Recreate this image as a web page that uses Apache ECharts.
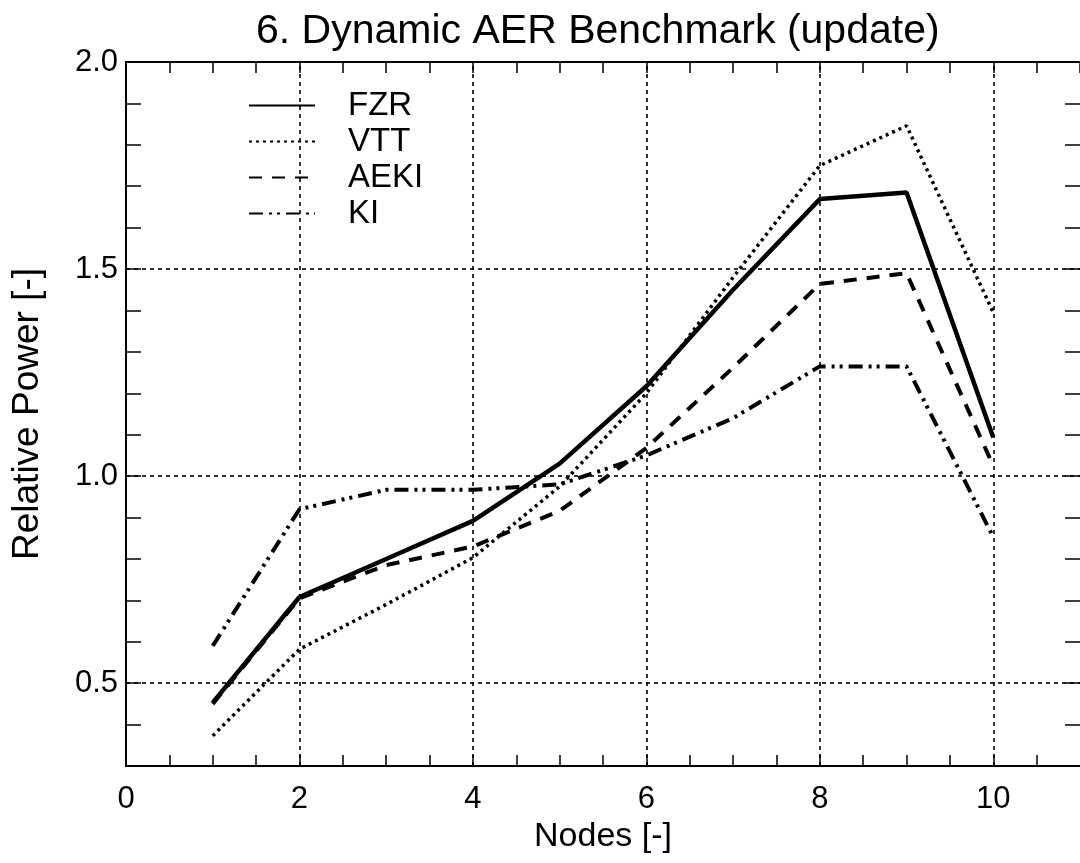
<!DOCTYPE html>
<html>
<head>
<meta charset="utf-8">
<script src="https://cdn.jsdelivr.net/npm/echarts@6/dist/echarts.min.js"></script>
<style>
html,body{margin:0;padding:0;background:#fff;}
#chart{width:1080px;height:863px;}
</style>
</head>
<body>
<div id="chart"></div>
<script>
var nodes = [1, 2, 3, 4, 5, 6, 7, 8, 9, 10];
var fzr  = [0.453, 0.708, 0.800, 0.892, 1.030, 1.217, 1.450, 1.669, 1.685, 1.093];
var vtt  = [0.373, 0.582, 0.690, 0.803, 0.975, 1.200, 1.480, 1.750, 1.846, 1.395];
var aeki = [0.450, 0.705, 0.785, 0.830, 0.916, 1.068, 1.262, 1.464, 1.490, 1.025];
var ki   = [0.590, 0.920, 0.967, 0.967, 0.980, 1.050, 1.140, 1.265, 1.265, 0.853];
var seriesNames = ['FZR', 'VTT', 'AEKI', 'KI'];
var xGridLines = [2, 4, 6, 8, 10];
var yGridLines = [0.5, 1.0, 1.5];
var xLabelValues = [0, 2, 4, 6, 8, 10];
var yLabelValues = [0.5, 1.0, 1.5, 2.0];

var FONT = "'Liberation Sans', Arial, Helvetica, sans-serif";

function pairs(vals) { return nodes.map(function (n, i) { return [n, vals[i]]; }); }
function isIn(list, v) { return list.some(function (t) { return Math.abs(t - v) < 1e-6; }); }

var gridLine = { type: [4, 4], width: 1.6, color: '#000' };
var markData = xGridLines.map(function (v) { return { xAxis: v }; })
  .concat(yGridLines.map(function (v) { return { yAxis: v }; }));

var axisCommon = {
  type: 'value',
  axisLine: { show: true, onZero: false, lineStyle: { color: '#000', width: 2 } },
  splitLine: { show: false },
  axisTick: { show: true, inside: true, lineStyle: { color: '#000', width: 1.5 } }
};

function xAx(pos, showLabel) {
  return Object.assign({}, axisCommon, {
    position: pos, min: 0, max: 11, interval: 0.5,
    axisTick: { show: true, inside: true, length: 11, lineStyle: { color: '#000', width: 1.5 } },
    axisLabel: {
      show: showLabel, color: '#000', fontSize: 31, fontFamily: FONT, margin: 18,
      showMaxLabel: false,
      formatter: function (v) { return isIn(xLabelValues, v) ? String(Math.round(v)) : ''; }
    }
  });
}
function yAx(pos, showLabel) {
  return Object.assign({}, axisCommon, {
    position: pos, min: 0.3, max: 2.0, interval: 0.1,
    axisTick: { show: true, inside: true, length: 15, lineStyle: { color: '#000', width: 1.5 } },
    axisLabel: {
      show: showLabel, color: '#000', fontSize: 31, fontFamily: FONT, margin: 8,
      formatter: function (v) { return isIn(yLabelValues, v) ? v.toFixed(1) : ''; }
    }
  });
}

var xa0 = xAx('bottom', true);
xa0.name = 'Nodes [-]';
xa0.nameLocation = 'middle';
xa0.nameGap = 50;
xa0.nameTextStyle = { color: '#000', fontSize: 34, fontFamily: FONT };
var xa1 = xAx('top', false);
var ya0 = yAx('left', true);
ya0.name = 'Relative Power [-]';
ya0.nameLocation = 'middle';
ya0.nameGap = 80;
ya0.nameTextStyle = { color: '#000', fontSize: 37, fontFamily: FONT };
var ya1 = yAx('right', false);
ya1.axisLine = { show: false, onZero: false };

var dashes = {
  FZR: 'solid',
  VTT: [3, 4],
  AEKI: [13, 10],
  KI: [14, 6, 3, 5, 3, 6]
};
var widths = { FZR: 4.5, VTT: 3.5, AEKI: 4, KI: 4 };
var dataMap = { FZR: fzr, VTT: vtt, AEKI: aeki, KI: ki };

var series = seriesNames.map(function (name, i) {
  var s = {
    name: name,
    type: 'line',
    xAxisIndex: 0,
    yAxisIndex: 0,
    data: pairs(dataMap[name]),
    symbol: 'none',
    showSymbol: false,
    animation: false,
    color: '#000',
    itemStyle: { color: '#000' },
    lineStyle: { color: '#000', width: widths[name], type: dashes[name], cap: 'butt' },
    z: 3
  };
  if (i === 0) {
    s.markLine = {
      silent: true, symbol: ['none', 'none'], animation: false,
      label: { show: false }, lineStyle: gridLine,
      emphasis: { disabled: true },
      data: markData, z: 1
    };
  }
  return s;
});

var chart = echarts.init(document.getElementById('chart'), null, { renderer: 'canvas' });
chart.setOption({
  backgroundColor: '#fff',
  animation: false,
  title: {
    text: '6. Dynamic AER Benchmark (update)',
    left: 256,
    top: 11,
    padding: 0,
    textStyle: { color: '#000', fontSize: 41, fontWeight: 'normal', fontFamily: FONT }
  },
  legend: {
    data: seriesNames,
    orient: 'vertical',
    left: 243,
    top: 84,
    itemWidth: 66,
    itemHeight: 14,
    itemGap: 3,
    selectedMode: false,
    itemStyle: { opacity: 0 },
    lineStyle: { width: 2 },
    textStyle: { color: '#000', fontSize: 33, fontFamily: FONT, padding: [0, 0, 0, 28], lineHeight: 33 }
  },
  grid: { left: 126, top: 62, width: 957, bottom: 97, containLabel: false },
  xAxis: [xa0, xa1],
  yAxis: [ya0, ya1],
  series: series
});
</script>
</body>
</html>
